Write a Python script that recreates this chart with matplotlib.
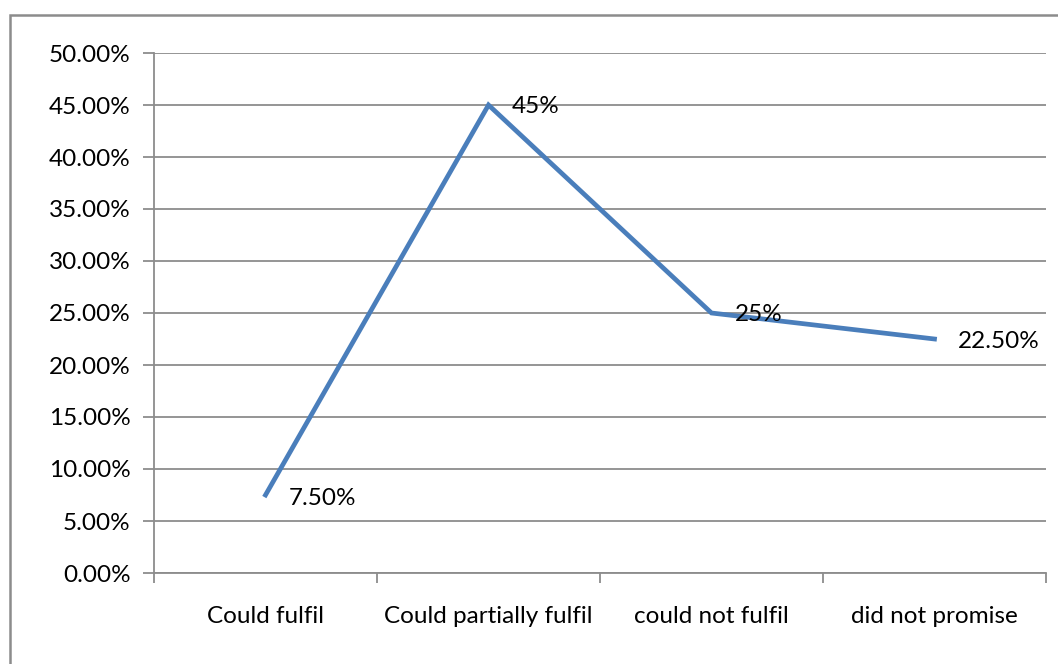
import matplotlib

matplotlib.use("Agg")
import matplotlib.pyplot as plt
from matplotlib.patches import Rectangle
from matplotlib.ticker import FixedLocator, FuncFormatter, MultipleLocator

categories = ["Could fulfil", "Could partially fulfil", "could not fulfil", "did not promise"]
shares = [0.075, 0.45, 0.25, 0.225]
point_labels = ["7.50%", "45%", "25%", "22.50%"]

plt.rcParams["font.family"] = ["Lato", "DejaVu Sans"]

fig = plt.figure(figsize=(10.58, 6.64), dpi=100)
W, H = 1058, 664
ax = fig.add_axes([154 / W, 1 - 573 / H, (1046 - 154) / W, (573 - 53) / H])

# outer chart frame (runs off the right and bottom edges)
fig.patches.append(Rectangle((10 / W, -0.05), 1.1, 1 - 15 / H + 0.05,
                             transform=fig.transFigure, fill=False,
                             edgecolor="#8c8c8c", linewidth=1.8))

x = range(len(categories))
ax.plot(x, shares, color="#4a7ebb", linewidth=3.4, solid_joinstyle="miter")

label_pos = [(0.105, -0.003), (0.105, -0.001), (0.105, -0.001), (0.105, -0.002)]
for xi, yi, text, (dx, dy) in zip(x, shares, point_labels, label_pos):
    ax.text(xi + dx, yi + dy, text, fontsize=17.5, va="center", ha="left",
            color="black")

ax.set_xlim(-0.5, len(categories) - 0.5)
ax.set_ylim(0, 0.5)
ax.yaxis.set_major_locator(MultipleLocator(0.05))
ax.yaxis.set_major_formatter(FuncFormatter(lambda v, _: f"{v * 100:.2f}%"))
ax.set_xticks(list(x))
ax.set_xticklabels(categories)
ax.xaxis.set_minor_locator(FixedLocator([i - 0.5 for i in range(len(categories) + 1)]))
ax.tick_params(axis="x", which="major", length=0, pad=24, labelsize=17.5)
ax.tick_params(axis="x", which="minor", length=7, width=1.3, color="#8c8c8c")
ax.tick_params(axis="y", length=8, width=1.3, color="#8c8c8c", pad=9, labelsize=17.5)

ax.grid(axis="y", color="#8c8c8c", linewidth=1.3)
ax.set_axisbelow(True)
for side in ["top", "right"]:
    ax.spines[side].set_visible(False)
for side in ["left", "bottom"]:
    ax.spines[side].set_color("#8c8c8c")
    ax.spines[side].set_linewidth(1.3)

fig.savefig("out.png", dpi=100)
